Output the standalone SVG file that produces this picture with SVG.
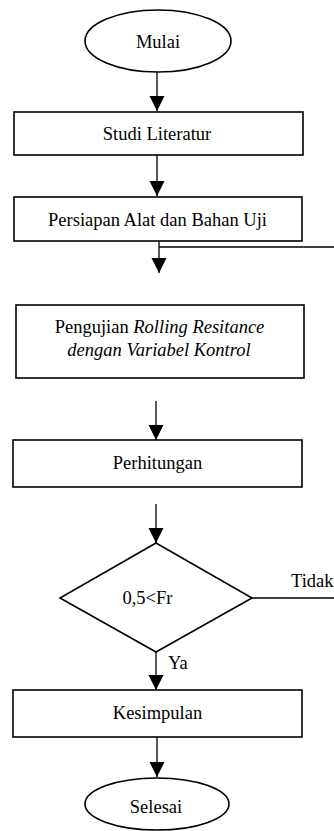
<svg xmlns="http://www.w3.org/2000/svg" width="334" height="831" viewBox="0 0 334 831">
<style>
.shape{fill:#fff;stroke:#000;stroke-width:1.6}
.line{fill:none;stroke:#000;stroke-width:1.3}
.arrow{fill:none;stroke:#000;stroke-width:1.3;marker-end:url(#ah)}
text{font-family:"Liberation Serif","Times New Roman",serif;font-size:18.5px;fill:#000}
.c{text-anchor:middle}
.i{font-style:italic}
</style>
<defs>
<marker id="ah" markerUnits="userSpaceOnUse" markerWidth="16" markerHeight="16" refX="15" refY="7.5" orient="auto">
<path d="M0,0 L15,7.5 L0,15 z" fill="#000"/>
</marker>
</defs>
<rect width="334" height="831" fill="#fff"/>
<g id="connectors">
<line class="arrow" x1="157" y1="72" x2="157" y2="111"/>
<line class="arrow" x1="157" y1="155" x2="157" y2="196"/>
<line class="arrow" x1="159" y1="233" x2="159" y2="273"/>
<line class="line" x1="159" y1="247" x2="334" y2="247"/>
<line class="arrow" x1="156" y1="401" x2="156" y2="440"/>
<line class="arrow" x1="156" y1="504" x2="156" y2="543"/>
<line class="line" x1="252" y1="598" x2="334" y2="598"/>
<line class="arrow" x1="156" y1="652" x2="156" y2="690"/>
<line class="arrow" x1="157" y1="737" x2="157" y2="777"/>
<text x="291" y="587">Tidak</text>
<text x="168" y="669">Ya</text>
</g>
<g id="mulai">
<ellipse class="shape" cx="158" cy="41" rx="73" ry="31"/>
<text class="c" x="158" y="48">Mulai</text>
</g>
<g id="studi">
<rect class="shape" x="14" y="112" width="289" height="43"/>
<text class="c" x="157" y="140">Studi Literatur</text>
</g>
<g id="persiapan">
<rect class="shape" x="14" y="197" width="288" height="44"/>
<text class="c" x="157.5" y="226">Persiapan Alat dan Bahan Uji</text>
</g>
<g id="pengujian">
<rect class="shape" x="16" y="305" width="288" height="73"/>
<text class="c" x="159.5" y="333">Pengujian <tspan class="i">Rolling Resitance</tspan></text>
<text class="c i" x="159" y="356">dengan Variabel Kontrol</text>
</g>
<g id="perhitungan">
<rect class="shape" x="13" y="440" width="289" height="47"/>
<text class="c" x="157.5" y="469">Perhitungan</text>
</g>
<g id="keputusan">
<polygon class="shape" points="156,543 252,598 156,652 60,598"/>
<text class="c" x="147.5" y="604">0,5&lt;Fr</text>
</g>
<g id="kesimpulan">
<rect class="shape" x="13" y="690" width="289" height="47"/>
<text class="c" x="157.5" y="719">Kesimpulan</text>
</g>
<g id="selesai">
<ellipse class="shape" cx="157" cy="804" rx="72" ry="26"/>
<text class="c" x="156" y="813">Selesai</text>
</g>
</svg>
